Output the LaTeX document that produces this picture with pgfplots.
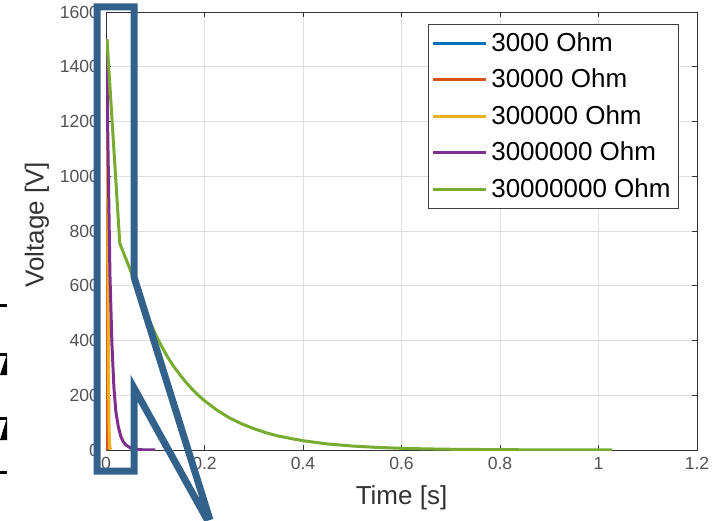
\documentclass[border=0pt]{standalone}
\usepackage{fontspec}
\setmainfont{Liberation Sans}
\usepackage{pgfplots}
\pgfplotsset{compat=1.18}
\definecolor{mblue}{RGB}{0,114,189}
\definecolor{morange}{RGB}{217,83,25}
\definecolor{myellow}{RGB}{237,177,32}
\definecolor{mpurple}{RGB}{126,47,142}
\definecolor{mgreen}{RGB}{119,172,48}
\definecolor{callout}{RGB}{50,98,140}

\begin{document}
\begin{tikzpicture}
\useasboundingbox (0pt,0pt) rectangle (360.5pt,260pt);
\begin{axis}[
    at={(53pt,35pt)}, anchor=south west,
    scale only axis,
    width=295.5pt, height=219pt,
    xmin=0, xmax=1.2, ymin=0, ymax=1600,
    xtick={0,0.2,0.4,0.6,0.8,1,1.2},
    ytick={0,200,400,600,800,1000,1200,1400,1600},
    /pgf/number format/assume math mode=true,
    /pgf/number format/1000 sep={},
    /pgf/number format/fixed,
    tick label style={font=\fontsize{8.8}{10}\selectfont, text=black!68},
    tick align=inside,
    major tick length=2.5pt,
    tick style={black!80, line width=0.4pt},
    axis line style={black!80, line width=0.4pt},
    grid=major,
    grid style={black!13, line width=0.4pt},
    label style={font=\fontsize{13}{15}\selectfont, text=black!80},
    xlabel={Time [s]},
    ylabel={Voltage [V]},
    xlabel style={at={(axis description cs:0.5,-0.11)}, anchor=center},
    ylabel style={at={(axis description cs:-0.117,0.514)}, anchor=center},
    legend style={
        at={(rel axis cs:0.9695,0.9726)}, anchor=north east,
        font=\fontsize{13}{15}\selectfont,
        draw=black!75, line width=0.4pt,
        inner sep=2pt, row sep=3.3pt,
    },
    legend cell align=left,
    legend image code/.code={\draw[#1] (0cm,0cm) -- (0.92cm,0cm);},
    every axis plot/.append style={line width=1.5pt},
]

% 3000 Ohm
\addplot[mblue] coordinates {
    (0,1500) (0.00003,800) (0.0001,250) (0.0002,40) (0.0004,1) (0.001,0)
};
\addlegendentry{3000 Ohm}

% 30000 Ohm
\addplot[morange] coordinates {
    (0,1500) (0.0002,900) (0.0005,400) (0.001,100) (0.002,5) (0.003,0)
};
\addlegendentry{30000 Ohm}

% 300000 Ohm
\addplot[myellow] coordinates {
    (0.002,1500) (0.003,1150) (0.004,700) (0.005,300) (0.006,100)
    (0.007,30) (0.008,8) (0.01,1)
};
\addlegendentry{300000 Ohm}

% 3000000 Ohm
\addplot[mpurple] coordinates {
    (0.001,1500) (0.004,1100) (0.008,640) (0.012,390) (0.016,230)
    (0.02,140) (0.025,85) (0.03,50) (0.035,30) (0.04,19) (0.05,7)
    (0.06,3) (0.07,1.2) (0.08,0.5) (0.1,0.1)
};
\addlegendentry{3000000 Ohm}

% 30000000 Ohm
\addplot[mgreen] coordinates {
    (0.002,1500) (0.028,755) (0.04,700) (0.05,655) (0.0625,590) (0.075,530)
    (0.0875,475) (0.1,425) (0.1125,380) (0.125,340) (0.1375,305) (0.15,275)
    (0.1625,247) (0.175,222) (0.1875,200) (0.2,180) (0.225,146) (0.25,118)
    (0.275,96) (0.3,78) (0.325,63) (0.35,51) (0.375,42) (0.4,34) (0.45,22)
    (0.5,14.5) (0.55,9.5) (0.6,6.3) (0.65,4.1) (0.7,2.7) (0.8,1.2) (0.9,0.5)
    (1.027,0.2)
};
\addlegendentry{30000000 Ohm}

\end{axis}

% callout overlay (image pixels, 1px = 0.5pt)
\begin{scope}[x=0.5pt, y=0.5pt, overlay]
\draw[callout, line width=3.5pt, line join=miter]
    (210,0) -- (134,243) -- (134,513) -- (97,513) -- (97,49) -- (134,49)
    -- (134,132) -- (207.4,0);

% fragments of neighbouring content at the left edge
\fill[black] (0,213.5) rectangle (7,216.5);
\fill[black] (0,145) -- (7,145) -- (7,166) -- cycle;
\fill[black] (0,164.5) rectangle (7,167);
\fill[black] (0,80) -- (7,80) -- (7,102) -- cycle;
\fill[black] (0,100.5) rectangle (7,103);
\fill[black] (0,46.5) rectangle (7,49.5);
\end{scope}
\end{tikzpicture}
\end{document}
